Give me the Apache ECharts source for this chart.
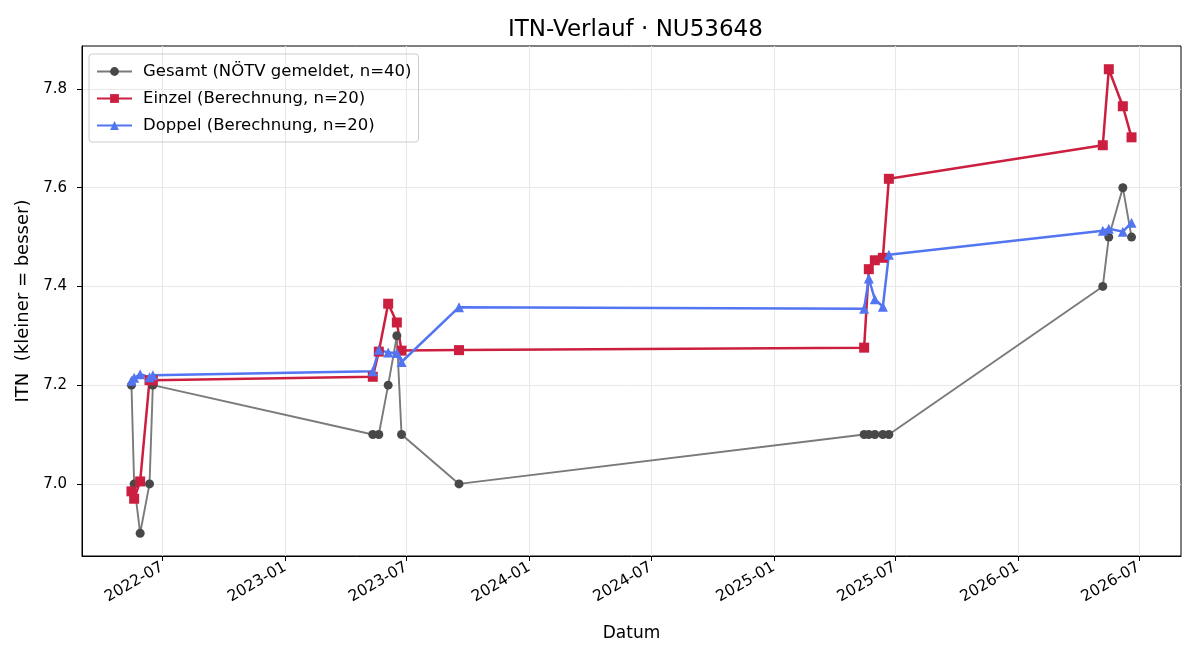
<!DOCTYPE html>
<html>
<head>
<meta charset="utf-8">
<script src="https://cdn.jsdelivr.net/npm/echarts@6/dist/echarts.min.js"></script>
<style>
	html, body { margin: 0; padding: 0; background: #fff; }
	#chart { width: 1200px; height: 660px; }
</style>
</head>
<body>
<div id="chart"></div>
<script>
// Messdaten
const dates = [
	'2022-05-16', '2022-05-20', '2022-05-29', '2022-06-12', '2022-06-17',
	'2023-05-12', '2023-05-21', '2023-06-04', '2023-06-17', '2023-06-24',
	'2023-09-18',
	'2025-05-16', '2025-05-23', '2025-06-01', '2025-06-13', '2025-06-22',
	'2026-05-08', '2026-05-17', '2026-06-07', '2026-06-20',
];
const gesamt = [7.2, 7.0, 6.9, 7.0, 7.2, 7.1, 7.1, 7.2, 7.3, 7.1, 7.0, 7.1, 7.1, 7.1, 7.1, 7.1, 7.4, 7.5, 7.6, 7.5];
const einzel = [6.985, 6.97, 7.005, 7.21, 7.21, 7.217, 7.268, 7.365, 7.327, 7.27, 7.271, 7.276, 7.435, 7.453, 7.458, 7.618, 7.686, 7.84, 7.765, 7.702];
const doppel = [7.209, 7.215, 7.222, 7.216, 7.22, 7.228, 7.272, 7.266, 7.265, 7.247, 7.358, 7.355, 7.416, 7.374, 7.359, 7.464, 7.513, 7.517, 7.511, 7.529];

const xTicks = ['2022-07-01', '2023-01-01', '2023-07-01', '2024-01-01', '2024-07-01', '2025-01-01', '2025-07-01', '2026-01-01', '2026-07-01'];
const yTicks = [7.0, 7.2, 7.4, 7.6, 7.8];
const xRange = ['2022-03-03', '2026-09-02'];

const font = 'DejaVu Sans';
const ts = (d) => echarts.time.parse(d).getTime();
const pair = (vals) => dates.map((d, i) => [ts(d), vals[i]]);
const xTickVals = xTicks.map(ts);

const chart = echarts.init(document.getElementById('chart'));
chart.setOption({
	animation: false,
	textStyle: { fontFamily: font },
	title: {
		// über der Zeichenfläche zentriert, nicht über dem ganzen Bild
		text: 'ITN-Verlauf · NU53648',
		left: 503,
		top: 14,
		textStyle: { fontFamily: font, fontSize: 23, fontWeight: 'normal', color: '#000' },
	},
	legend: {
		orient: 'vertical',
		left: 89,
		top: 54,
		padding: [9, 7, 8, 7],
		itemGap: 10,
		itemWidth: 35,
		itemHeight: 11,
		borderColor: '#cccccc',
		borderWidth: 1,
		borderRadius: 3,
		textStyle: { fontFamily: font, fontSize: 16.5, color: '#000', padding: [0, 0, 0, 6] },
	},
	grid: {
		left: 82,
		right: 19,
		top: 46,
		bottom: 104,
		show: true,
		borderColor: '#000',
		borderWidth: 1,
	},
	xAxis: {
		type: 'value',
		min: ts(xRange[0]),
		max: ts(xRange[1]),
		name: 'Datum',
		nameLocation: 'middle',
		nameGap: 69,
		nameTextStyle: { fontFamily: font, fontSize: 17, color: '#000' },
		axisLine: { lineStyle: { color: '#000' } },
		axisTick: { show: true, length: 5, lineStyle: { color: '#000' }, customValues: xTickVals },
		axisLabel: {
			customValues: xTickVals,
			rotate: 30,
			margin: 10,
			fontFamily: font,
			fontSize: 15.5,
			color: '#000',
			formatter: (v) => echarts.time.format(v, '{yyyy}-{MM}', false),
		},
		splitLine: { show: true, lineStyle: { color: '#e8e8e8' } },
	},
	yAxis: {
		type: 'value',
		min: 6.854,
		max: 7.887,
		name: 'ITN  (kleiner = besser)',
		nameLocation: 'middle',
		nameGap: 48,
		nameTextStyle: { fontFamily: font, fontSize: 18, color: '#000' },
		axisLine: { show: true, lineStyle: { color: '#000' } },
		axisTick: { show: true, length: 5, lineStyle: { color: '#000' }, customValues: yTicks },
		axisLabel: {
			customValues: yTicks,
			margin: 15,
			fontFamily: font,
			fontSize: 15,
			color: '#000',
			formatter: (v) => v.toFixed(1),
		},
		splitLine: { show: true, lineStyle: { color: '#e8e8e8' } },
	},
	series: [
		{
			name: 'Gesamt (NÖTV gemeldet, n=40)',
			type: 'line',
			data: pair(gesamt),
			symbol: 'circle',
			symbolSize: 9,
			itemStyle: { color: '#484848' },
			lineStyle: { color: '#7a7a7a', width: 1.9 },
		},
		{
			name: 'Einzel (Berechnung, n=20)',
			type: 'line',
			data: pair(einzel),
			symbol: 'rect',
			symbolSize: 10,
			itemStyle: { color: '#cc1f40' },
			lineStyle: { color: '#cc1f40', width: 2.5 },
		},
		{
			name: 'Doppel (Berechnung, n=20)',
			type: 'line',
			data: pair(doppel),
			symbol: 'triangle',
			symbolSize: 10,
			itemStyle: { color: '#5375f2' },
			lineStyle: { color: '#5375f2', width: 2.5 },
		},
	],
});
</script>
</body>
</html>
